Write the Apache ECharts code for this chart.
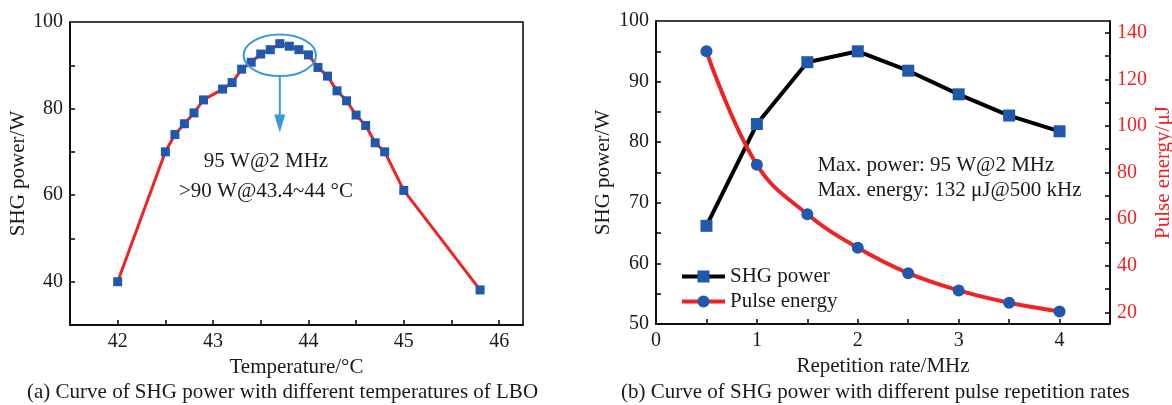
<!DOCTYPE html>
<html>
<head>
<meta charset="utf-8">
<script src="https://cdn.jsdelivr.net/npm/echarts@6/dist/echarts.min.js"></script>
<style>
  html, body { margin: 0; padding: 0; background: #fff; }
  #chart { width: 1172px; height: 405px; }
</style>
</head>
<body>
<div id="chart"></div>
<script>
// (a) SHG power against LBO crystal temperature
const tempC = [42, 42.5, 42.6, 42.7, 42.8, 42.9, 43.1, 43.2, 43.3, 43.4, 43.5, 43.6, 43.7,
               43.8, 43.9, 44.0, 44.1, 44.2, 44.3, 44.4, 44.5, 44.6, 44.7, 44.8, 45.0, 45.8];
const shgVsTemp = [40, 70, 74, 76.5, 79, 82, 84.5, 86, 89.1, 90.7, 92.6, 93.6, 95,
                   94.4, 93.6, 92.4, 89.5, 87.5, 84.1, 81.8, 78.5, 76.1, 72.1, 70, 61.1, 38.1];

// (b) SHG power and pulse energy against repetition rate
const repRateMHz = [0.5, 1, 1.5, 2, 2.5, 3, 3.5, 4];
const shgPower = [66.2, 83.0, 93.2, 95.0, 91.8, 87.9, 84.4, 81.8];
const pulseEnergy = [132, 83.3, 62.1, 47.7, 36.8, 29.4, 24.1, 20.4];

// tick marks and tick labels
const tempTicks = [42, 42.5, 43, 43.5, 44, 44.5, 45, 45.5, 46];
const tempLabels = [42, 43, 44, 45, 46];
const powerTicksA = [40, 50, 60, 70, 80, 90];
const powerLabelsA = [40, 60, 80, 100];
const rateTicks = [0.5, 1, 1.5, 2, 2.5, 3, 3.5, 4];
const rateLabels = [0, 1, 2, 3, 4];
const powerTicksB = [55, 60, 65, 70, 75, 80, 85, 90, 95];
const powerLabelsB = [50, 60, 70, 80, 90, 100];
const energyTicks = [20, 30, 40, 50, 60, 70, 80, 90, 100, 110, 120, 130, 140];
const energyLabels = [20, 40, 60, 80, 100, 120, 140];

const FONT = '"Liberation Serif", "Times New Roman", serif';
const INK = '#1a1a1a';
const RED = '#ee2424';
const BLUE = '#1f58ad';
const CYAN = '#3a9ad8';

function axisBase(ticks, labels, extra) {
  return Object.assign({
    type: 'value',
    splitLine: { show: false },
    axisLine: { show: true, onZero: false, lineStyle: { color: '#000', width: 1.5 } },
    axisTick: { show: true, inside: true, length: 5, customValues: ticks, lineStyle: { color: '#000', width: 1.5 } },
    axisLabel: { customValues: labels, color: INK, fontFamily: FONT, fontSize: 20, margin: 7 },
    nameLocation: 'middle',
    nameTextStyle: { color: INK, fontFamily: FONT, fontSize: 21 }
  }, extra);
}

const chart = echarts.init(document.getElementById('chart'), null, { renderer: 'canvas' });

const gridBase = { show: true, borderColor: '#000', borderWidth: 1.5, containLabel: false, outerBoundsMode: 'none' };

const option = {
  backgroundColor: '#fff',
  animation: false,
  grid: [
    Object.assign({ left: 70, top: 22, width: 453, height: 303 }, gridBase),
    Object.assign({ left: 656, top: 21, width: 454, height: 303 }, gridBase)
  ],
  xAxis: [
    axisBase(tempTicks, tempLabels, { gridIndex: 0, min: 41.5, max: 46.25, name: 'Temperature/°C', nameGap: 27 }),
    axisBase(rateTicks, rateLabels, { gridIndex: 1, min: 0, max: 4.5, name: 'Repetition rate/MHz', nameGap: 27 })
  ],
  yAxis: [
    axisBase(powerTicksA, powerLabelsA, { gridIndex: 0, min: 30, max: 100, name: 'SHG power/W', nameGap: 40 }),
    axisBase(powerTicksB, powerLabelsB, { gridIndex: 1, min: 50, max: 100, name: 'SHG power/W', nameGap: 42 }),
    axisBase(energyTicks, energyLabels, {
      gridIndex: 1, min: 15, max: 145, position: 'right', name: 'Pulse energy/μJ', nameGap: 43,
      axisLabel: { customValues: energyLabels, color: RED, fontFamily: FONT, fontSize: 20, margin: 7 },
      nameTextStyle: { color: RED, fontFamily: FONT, fontSize: 21 }
    })
  ],
  legend: {
    data: ['SHG power', 'Pulse energy'],
    orient: 'vertical',
    left: 680,
    top: 266,
    padding: 0,
    itemWidth: 43,
    itemHeight: 15,
    itemGap: 4,
    lineStyle: { width: 4 },
    textStyle: { color: INK, fontFamily: FONT, fontSize: 21 }
  },
  series: [
    {
      name: 'SHG vs temperature',
      type: 'line',
      xAxisIndex: 0, yAxisIndex: 0,
      data: tempC.map((t, i) => [t, shgVsTemp[i]]),
      symbol: 'rect', symbolSize: 9,
      lineStyle: { color: RED, width: 3 },
      itemStyle: { color: BLUE }
    },
    {
      name: 'SHG power',
      type: 'line',
      xAxisIndex: 1, yAxisIndex: 1,
      data: repRateMHz.map((r, i) => [r, shgPower[i]]),
      symbol: 'rect', symbolSize: 12,
      lineStyle: { color: '#000', width: 4 },
      itemStyle: { color: BLUE }
    },
    {
      name: 'Pulse energy',
      type: 'line',
      xAxisIndex: 1, yAxisIndex: 2,
      data: repRateMHz.map((r, i) => [r, pulseEnergy[i]]),
      smooth: 0.4,
      symbol: 'circle', symbolSize: 12,
      lineStyle: { color: RED, width: 4 },
      itemStyle: { color: BLUE }
    }
  ]
};

chart.setOption(option);

// annotations placed through the axes' own coordinate systems
function px(gridIndex, x, y) {
  return chart.convertToPixel({ gridIndex: gridIndex }, [x, y]);
}
function pxB(x, y) {
  return chart.convertToPixel({ xAxisIndex: 1, yAxisIndex: 1 }, [x, y]);
}

const eL = px(0, 43.32, 92.3), eR = px(0, 44.08, 92.3);
const eT = px(0, 43.7, 97.1), eB = px(0, 43.7, 87.5);
const arrowEnd = px(0, 43.7, 74.5);
const headLen = 18, headHalf = 5.5;
const note1 = px(0, 43.555, 67.8);
const note2 = px(0, 43.555, 60.9);
const maxP = pxB(1.6, 76.2);
const maxE = pxB(1.6, 72.0);

const textStyle = { fill: INK, fontFamily: FONT, fontSize: 21 };

chart.setOption({
  graphic: [
    { type: 'ellipse', z: 10,
      shape: { cx: (eL[0] + eR[0]) / 2, cy: (eT[1] + eB[1]) / 2, rx: (eR[0] - eL[0]) / 2, ry: (eB[1] - eT[1]) / 2 },
      style: { fill: null, stroke: CYAN, lineWidth: 2 } },
    { type: 'line', z: 10,
      shape: { x1: eB[0], y1: eB[1], x2: arrowEnd[0], y2: arrowEnd[1] - headLen + 2 },
      style: { stroke: CYAN, lineWidth: 2 } },
    { type: 'polygon', z: 10,
      shape: { points: [[arrowEnd[0] - headHalf, arrowEnd[1] - headLen], [arrowEnd[0] + headHalf, arrowEnd[1] - headLen], [arrowEnd[0], arrowEnd[1]]] },
      style: { fill: CYAN } },
    { type: 'text', z: 10, x: note1[0], y: note1[1],
      style: Object.assign({ text: '95 W@2 MHz', textAlign: 'center', textVerticalAlign: 'middle' }, textStyle) },
    { type: 'text', z: 10, x: note2[0], y: note2[1],
      style: Object.assign({ text: '>90 W@43.4~44 °C', textAlign: 'center', textVerticalAlign: 'middle' }, textStyle) },
    { type: 'text', z: 10, x: maxP[0], y: maxP[1],
      style: Object.assign({ text: 'Max. power: 95 W@2 MHz', textAlign: 'left', textVerticalAlign: 'middle' }, textStyle) },
    { type: 'text', z: 10, x: maxE[0], y: maxE[1],
      style: Object.assign({ text: 'Max. energy: 132 μJ@500 kHz', textAlign: 'left', textVerticalAlign: 'middle' }, textStyle) },
    { type: 'text', z: 10, left: 27, top: 382,
      style: Object.assign({ text: '(a) Curve of SHG power with different temperatures of LBO' }, textStyle) },
    { type: 'text', z: 10, left: 621, top: 382,
      style: Object.assign({ text: '(b) Curve of SHG power with different pulse repetition rates' }, textStyle) }
  ]
});
</script>
</body>
</html>
